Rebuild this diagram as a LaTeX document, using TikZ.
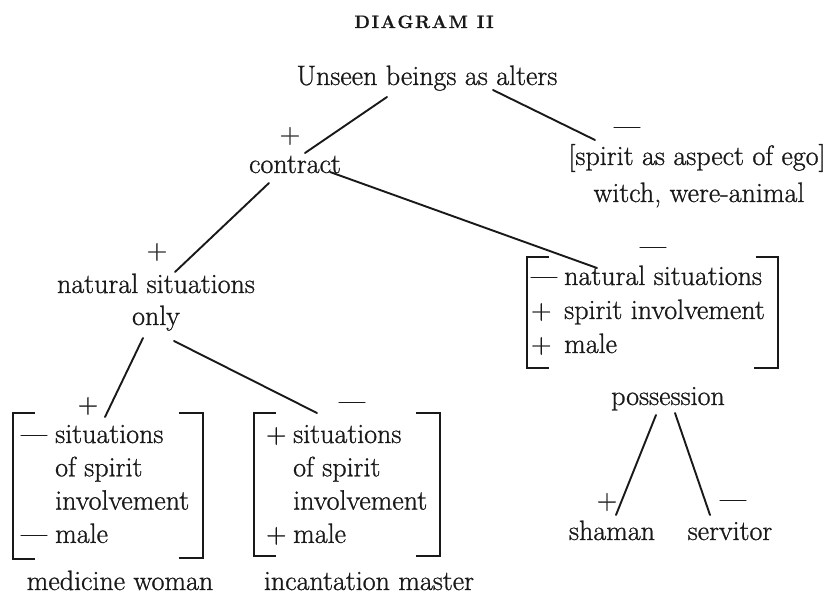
\documentclass[tikz,border=0pt]{standalone}
\usepackage{fontspec}
\setmainfont{Latin Modern Roman}[FakeBold=0.9]
\usetikzlibrary{calc}
\tikzset{
  txt/.style={font=\fontsize{28}{33.3}\selectfont, inner sep=0pt, anchor=base, text=black!90},
  boxtxt/.style={txt, anchor=base west},
  titletxt/.style={inner sep=0pt, anchor=base, text=black!90},
  conn/.style={line width=1.9pt, line cap=round, draw=black!90},
  brk/.style={line width=2.4pt, draw=black!90},
}
\begin{document}
\begin{tikzpicture}[x=1pt,y=-1pt]
\useasboundingbox[fill=white] (0,0) rectangle (836,596);

% title
\node[titletxt] (title) at (424,28) {\fontsize{18}{22}\selectfont\bfseries D\kern1.6pt I\kern1.6pt A\kern1.6pt G\kern1.6pt R\kern1.6pt A\kern1.6pt M\hspace{9pt}I\kern1.6pt I};

% main nodes
\node[txt] (unseen) at (427,85) {Unseen beings as alters};
\node[txt] (contract) at (295,173) {contract};
\node[txt] (spirit) at (697,165) {[spirit as aspect of ego]};
\node[txt] (witch) at (699,202) {witch, were-animal};
\node[txt] (natural) at (156,293) {natural situations};
\node[txt] (only) at (156,325) {only};
\node[txt] (possession) at (668,405) {possession};
\node[txt] (shaman) at (612,540) {shaman};
\node[txt] (servitor) at (730,540) {servitor};
\node[txt] (medicine) at (120,590) {medicine woman};
\node[txt] (incant) at (369,590) {incantation master};

% signs
\node[txt] (pA) at (290,143) {+};
\node[txt] (mA) at (627,135) {\textemdash};
\node[txt] (pB) at (157,259) {+};
\node[txt] (mC) at (653,255) {\textemdash};
\node[txt] (pD) at (88,413) {+};
\node[txt] (mD) at (352,410) {\textemdash};
\node[txt] (pE) at (607,509) {+};
\node[txt] (mE) at (733,508) {\textemdash};

% bracket boxes
\node[boxtxt] (lbox) at (21,443) {\begin{tabular}[t]{@{}l@{}l@{}}\makebox[34pt][l]{\textemdash}&situations\\ &of spirit\\ &involvement\\ \textemdash&male\end{tabular}};
\node[boxtxt] (mbox) at (266,443) {\begin{tabular}[t]{@{}l@{}l@{}}\makebox[27pt][l]{+}&situations\\ &of spirit\\ &involvement\\ +&male\end{tabular}};
\node[boxtxt, font=\fontsize{28}{34}\selectfont] (rbox) at (531,285) {\begin{tabular}[t]{@{}l@{}l@{}}\makebox[33pt][l]{\textemdash}&natural situations\\ +&spirit involvement\\ +&male\end{tabular}};

% brackets
\draw[brk] ($(lbox.base west)+(14,-30)$) -- ($(lbox.base west)+(-8,-30)$) -- ($(lbox.base west)+(-8,116)$) -- ($(lbox.base west)+(14,116)$);
\draw[brk] ($(lbox.base west)+(158,-30)$) -- ($(lbox.base west)+(182,-30)$) -- ($(lbox.base west)+(182,115)$) -- ($(lbox.base west)+(158,115)$);
\draw[brk] ($(mbox.base west)+(10,-30)$) -- ($(mbox.base west)+(-12,-30)$) -- ($(mbox.base west)+(-12,113)$) -- ($(mbox.base west)+(10,113)$);
\draw[brk] ($(mbox.base west)+(150,-30)$) -- ($(mbox.base west)+(174,-30)$) -- ($(mbox.base west)+(174,113)$) -- ($(mbox.base west)+(150,113)$);
\draw[brk] ($(rbox.base west)+(18,-28)$) -- ($(rbox.base west)+(-4,-28)$) -- ($(rbox.base west)+(-4,83)$) -- ($(rbox.base west)+(18,83)$);
\draw[brk] ($(rbox.base west)+(225,-28)$) -- ($(rbox.base west)+(247,-28)$) -- ($(rbox.base west)+(247,83)$) -- ($(rbox.base west)+(223,83)$);

% connectors
\draw[conn] ($(unseen.base)+(-40,12)$) -- ($(contract.base)+(10,-20)$);
\draw[conn] ($(unseen.base)+(66,5)$) -- ($(spirit.base)+(-102,-25)$);
\draw[conn] ($(contract.base)+(-26,10)$) -- ($(natural.base)+(19,-21)$);
\draw[conn] ($(contract.base)+(35,-1)$) -- ($(rbox.base west)+(66,-17)$);
\draw[conn] ($(only.base)+(-13,13)$) -- ($(lbox.base west)+(84,-26)$);
\draw[conn] ($(only.base)+(18,16)$) -- ($(mbox.base west)+(51,-30)$);
\draw[conn] ($(possession.base)+(-12,10)$) -- ($(shaman.base)+(4,-25)$);
\draw[conn] ($(possession.base)+(7,8)$) -- ($(servitor.base)+(-20,-25)$);
\end{tikzpicture}
\end{document}
